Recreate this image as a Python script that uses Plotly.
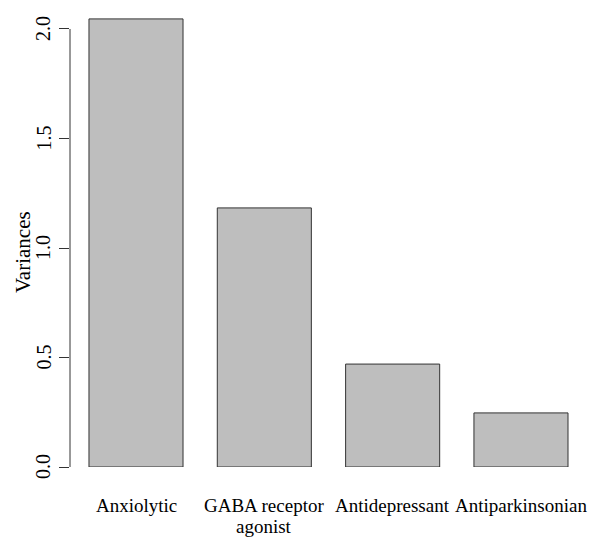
import plotly.graph_objects as go

categories = ["Anxiolytic", "GABA receptor\nagonist", "Antidepressant", "Antiparkinsonian"]
variances = [2.046, 1.183, 0.470, 0.247]
tick_vals = [0.0, 0.5, 1.0, 1.5, 2.0]
tick_text = ["0.0", "0.5", "1.0", "1.5", "2.0"]

FONT = "Liberation Serif, Times New Roman, serif"

xpos = list(range(len(categories)))

fig = go.Figure()
fig.add_trace(go.Bar(
    x=xpos, y=variances,
    marker=dict(color="#bebebe", line=dict(color="#333333", width=1)),
    width=0.733, hoverinfo="skip",
))

# R-style y axis line spanning 0..max tick
fig.add_shape(type="line", xref="paper", yref="y", x0=0, x1=0,
              y0=tick_vals[0], y1=tick_vals[-1], line=dict(color="#333333", width=1))

for v, t in zip(tick_vals, tick_text):
    fig.add_annotation(xref="paper", yref="y", x=0, y=v, xshift=-27, text=t,
                       textangle=-90, showarrow=False, xanchor="center", yanchor="middle",
                       font=dict(family=FONT, size=20, color="black"))

fig.add_annotation(xref="paper", yref="y", x=0, y=1.0, xshift=-47, yshift=-4,
                   text="Variances", textangle=-90, showarrow=False,
                   xanchor="center", yanchor="middle",
                   font=dict(family=FONT, size=21, color="black"))

# category labels (R style, tight line spacing)
for xi, lab in zip(xpos, categories):
    for li, line in enumerate(lab.split("\n")):
        fig.add_annotation(xref="x", yref="paper", x=xi, y=0, yshift=-38 - 21 * li,
                           text=line, showarrow=False, xanchor="center", yanchor="middle",
                           font=dict(family=FONT, size=19, color="black"))

fig.update_layout(
    width=596, height=531,
    margin=dict(l=62, r=0, t=1, b=72, autoexpand=False),
    plot_bgcolor="white", paper_bgcolor="white",
    showlegend=False,
    font=dict(family=FONT, size=19, color="black"),
    xaxis=dict(range=[-0.5143, 3.647], showticklabels=False,
               showline=False, showgrid=False, zeroline=False, ticks="",
               fixedrange=True, automargin=False),
    yaxis=dict(range=[0, 2.0913], tickmode="array", tickvals=tick_vals,
               ticktext=["" for _ in tick_vals], ticks="outside", ticklen=10,
               tickcolor="#333333", showline=False, showgrid=False,
               zeroline=False, fixedrange=True, automargin=False),
)

fig.write_html("out.html")
